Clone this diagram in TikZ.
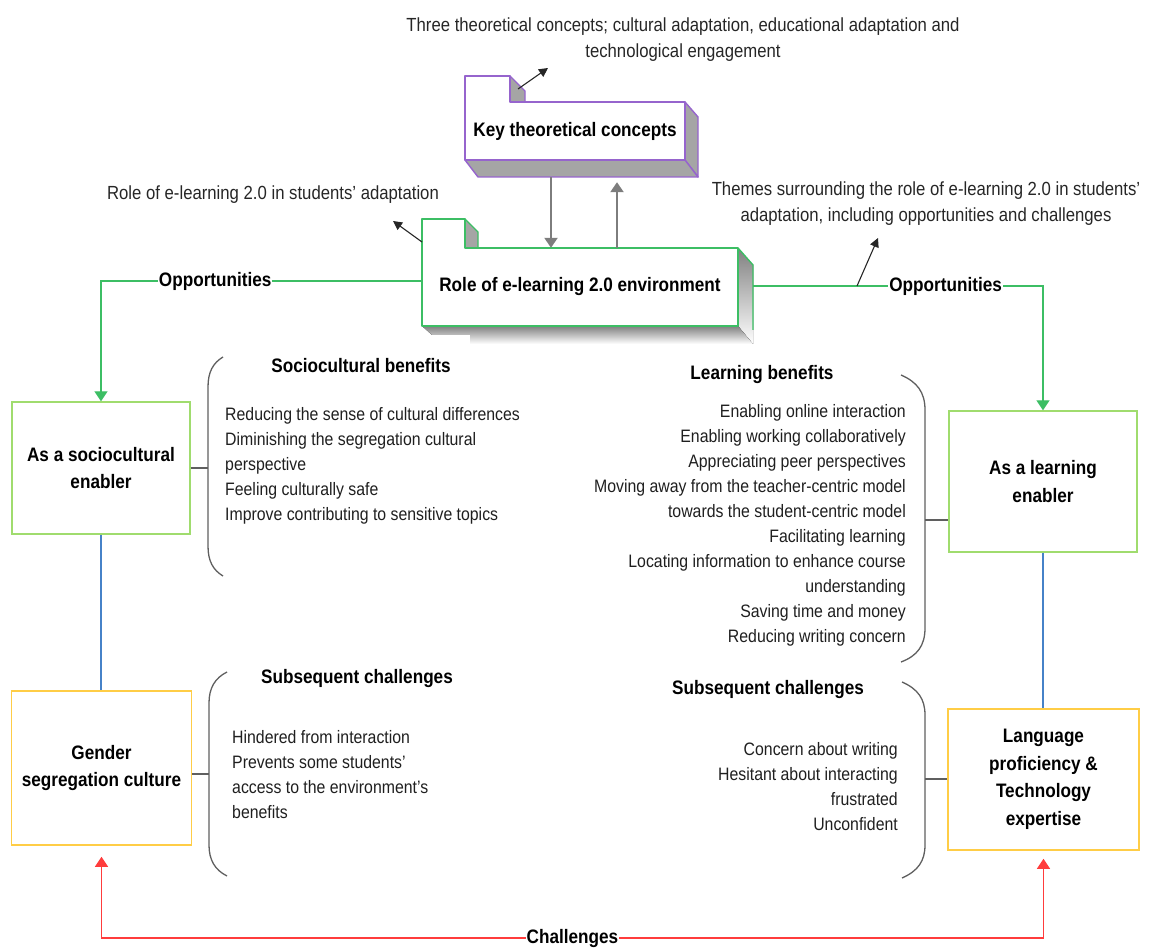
\documentclass[tikz,border=0pt]{standalone}
\usepackage{fontspec}
\setmainfont{Liberation Sans}[FakeStretch=0.88]
\usetikzlibrary{arrows.meta}

\definecolor{violetedge}{RGB}{150,100,205}
\definecolor{roleedge}{RGB}{60,190,100}
\definecolor{leafgreen}{RGB}{160,220,110}
\definecolor{amber}{RGB}{255,205,70}
\definecolor{linkblue}{RGB}{70,130,200}
\definecolor{alertred}{RGB}{255,60,60}
\definecolor{shade}{RGB}{165,165,165}
\definecolor{bracegray}{RGB}{95,95,95}
\definecolor{linkgray}{RGB}{125,125,125}

\begin{document}
\begin{tikzpicture}[x=1pt,y=-1pt,
  every node/.style={inner sep=0pt},
  bodytext/.style={font=\fontsize{18}{25}\selectfont, text=black!88},
  notetext/.style={font=\fontsize{19}{26}\selectfont, text=black!85},
  headtext/.style={font=\fontsize{19.5}{26}\selectfont\bfseries},
  boxtext/.style={font=\fontsize{19.5}{27.5}\selectfont\bfseries, align=center},
  enablerbox/.style={boxtext, draw=leafgreen, line width=1.4pt},
  culturebox/.style={boxtext, draw=amber, line width=1.6pt},
  violetline/.style={draw=violetedge, line width=1.4pt, line join=round},
  roleline/.style={draw=roleedge, line width=1.4pt, line join=round},
  tipshape/.style={-{Triangle[length=10pt,width=13pt]}},
  opp/.style={roleedge, line width=1.3pt, tipshape},
  chal/.style={alertred, line width=1.3pt, {Triangle[length=10pt,width=13pt]}-{Triangle[length=10pt,width=13pt]}},
  blueline/.style={linkblue, line width=1.1pt},
  brace/.style={bracegray, line width=1.3pt},
  grayarrow/.style={linkgray, line width=2.2pt, -{Triangle[length=10pt,width=13pt]}},
  notearrow/.style={black!85, line width=1.1pt, -{Triangle[length=9pt,width=9pt]}},
  lbl/.style={fill=white, text=black, inner xsep=1pt, inner ysep=2pt, font=\fontsize{19.5}{24}\selectfont\bfseries}
]
\useasboundingbox (0,0) rectangle (1152,949);

% ---------- Key theoretical concepts (extruded folder shape) ----------
\draw[violetline, fill=shade] (510,76) -- (525,91) -- (525,102) -- (510,102) -- cycle;
\draw[violetline, fill=shade] (685,102) -- (698,117) -- (698,177) -- (685,160) -- cycle;
\draw[violetline, fill=shade] (465,160) -- (478,177) -- (698,177) -- (685,160) -- cycle;
\draw[violetline, fill=white] (465,76) -- (510,76) -- (510,102) -- (685,102) -- (685,160) -- (465,160) -- cycle;
\node[headtext, minimum width=220, minimum height=58] (key) at (575,131) {Key theoretical concepts};

% ---------- Role of e-learning 2.0 environment ----------
\fill[shade] (738,248) -- (753,265) -- (753,344) -- (738,326) -- cycle;
\fill[shade] (422,326) -- (432,335) -- (470,335) -- (470,344) -- (753,344) -- (738,326) -- cycle;
\draw[roleline] (738,248) -- (753,265) -- (753,330);
\draw[roleline, fill=shade] (465,219) -- (478,232) -- (478,248) -- (465,248) -- cycle;
\draw[roleline, fill=white] (422,219) -- (465,219) -- (465,248) -- (738,248) -- (738,326) -- (422,326) -- cycle;
\node[headtext, minimum width=316, minimum height=78] (role) at (580,287) {Role of e-learning 2.0 environment};

% links between the two central shapes
\draw[grayarrow] ([xshift=-24pt,yshift=-17pt]key.south) -- ([xshift=-29pt]role.north);
\draw[grayarrow] ([xshift=37pt]role.north) -- ([xshift=42pt,yshift=-22pt]key.south);

% ---------- annotations ----------
\node[notetext, align=center] (noteKey) at (683,40)
  {Three theoretical concepts; cultural adaptation, educational adaptation and\\technological engagement};
\node[notetext] (noteRole) at (273,195) {Role of e-learning 2.0 in students’ adaptation};
\node[notetext, align=center] (noteThemes) at (926,204)
  {Themes surrounding the role of e-learning 2.0 in students’\\adaptation, including opportunities and challenges};

\coordinate (keyTab) at (518,89);
\coordinate (keyNote) at (548,68);
\draw[notearrow] (keyTab) -- (keyNote);
\coordinate (roleTab) at (422,242);
\coordinate (roleNote) at (393,221);
\draw[notearrow] (roleTab) -- (roleNote);
\coordinate (themeFoot) at (857,286);
\coordinate (themeNote) at (878,238);

% ---------- outcome boxes ----------
\node[enablerbox, minimum width=178, minimum height=132] (soc) at (101,468) {As a sociocultural\\enabler};
\node[enablerbox, minimum width=188, minimum height=141] (learn) at (1043,481.5) {As a learning\\enabler};
\node[culturebox, minimum width=180, minimum height=154] (gender) at (101.5,768) {Gender\\segregation culture};
\node[culturebox, minimum width=191, minimum height=141] (lang) at (1043.5,779.5) {Language\\proficiency \&\\Technology\\expertise};

% opportunities
\draw[opp] ([yshift=6pt]role.west) -| node[pos=0.322, lbl] {Opportunities} (soc.north);
\draw[opp] ([xshift=15pt,yshift=1pt]role.east) -| node[pos=0.332, lbl] {Opportunities} (learn.north);
\draw[notearrow] (themeFoot) -- (themeNote);

% enabler to challenge links
\draw[blueline] (soc.south) -- (soc.south |- gender.north);
\draw[blueline] (learn.south) -- (learn.south |- lang.north);

% challenges
\coordinate (gTip) at ([yshift=-11pt]gender.south);
\coordinate (lTip) at ([yshift=-8pt]lang.south);
\coordinate (chalRow) at (0,938);
\draw[chal] (gTip) -- (gTip |- chalRow) -- node[lbl] {Challenges} (lTip |- chalRow) -- (lTip);

% ---------- braces ----------
\draw[brace] (223,357) .. controls (213,363) and (208,372) .. (208,387) -- (208,546) .. controls (208,561) and (213,570) .. (223,576);
\coordinate (socBrace) at (208,468);
\draw[brace] (soc.east) -- (socBrace);

\draw[brace] (227,672) .. controls (215,678) and (209,688) .. (209,703) -- (209,845) .. controls (209,860) and (215,870) .. (227,876);
\coordinate (genBrace) at (209,774);
\draw[brace] (genBrace -| gender.east) -- (genBrace);

\draw[brace] (901,375) .. controls (917,382) and (925,392) .. (925,410) -- (925,628) .. controls (925,646) and (917,656) .. (901,662);
\coordinate (learnBrace) at (925,520);
\draw[brace] (learnBrace) -- (learnBrace -| learn.west);

\draw[brace] (902,682) .. controls (918,689) and (925,699) .. (925,715) -- (925,845) .. controls (925,861) and (918,871) .. (902,878);
\coordinate (langBrace) at (925,779);
\draw[brace] (langBrace) -- (langBrace -| lang.west);

% ---------- brace contents ----------
\node[headtext] (socHead) at (361,366) {Sociocultural benefits};
\node[bodytext, align=left, anchor=north west] (socList) at (225,407)
  {Reducing the sense of cultural differences\\Diminishing the segregation cultural\\perspective\\Feeling culturally safe\\Improve contributing to sensitive topics};

\node[headtext] (learnHead) at (762,375) {Learning benefits};
\node[bodytext, align=right, anchor=north east] (learnList) at (906,404)
  {Enabling online interaction\\Enabling working collaboratively\\Appreciating peer perspectives\\Moving away from the teacher-centric model\\towards the student-centric model\\Facilitating learning\\Locating information to enhance course\\understanding\\Saving time and money\\Reducing writing concern};

\node[headtext] (genHead) at (357,678) {Subsequent challenges};
\node[bodytext, align=left, anchor=north west] (genList) at (232,730)
  {Hindered from interaction\\Prevents some students’\\access to the environment’s\\benefits};

\node[headtext] (langHead) at (768,689) {Subsequent challenges};
\node[bodytext, align=right, anchor=north east] (langList) at (898,742)
  {Concern about writing\\Hesitant about interacting\\frustrated\\Unconfident};
\end{tikzpicture}
\end{document}
